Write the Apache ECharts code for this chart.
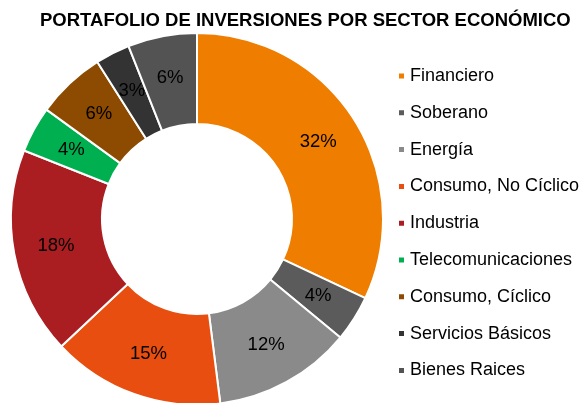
<!DOCTYPE html>
<html>
<head>
<meta charset="utf-8">
<script src="https://cdn.jsdelivr.net/npm/echarts@6/dist/echarts.min.js"></script>
<style>
  html, body { margin: 0; padding: 0; background: #fff; }
  #chart { width: 585px; height: 403px; }
</style>
</head>
<body>
<div id="chart"></div>
<script>
// datos del portafolio
const sectores = ['Financiero', 'Soberano', 'Energía', 'Consumo, No Cíclico', 'Industria',
  'Telecomunicaciones', 'Consumo, Cíclico', 'Servicios Básicos', 'Bienes Raices'];
const porcentajes = [32, 4, 12, 15, 18, 4, 6, 3, 6];
const colores = ['#EE7D00', '#5B5B5B', '#8A8A8A', '#E84E10', '#AA1E22', '#00B050', '#8C4B00', '#333333', '#535353'];

(function () {
  let myChart = echarts.init(document.getElementById('chart'));

  let option = {
    color: colores,
    textStyle: { fontFamily: 'Liberation Sans, Arial, sans-serif' },
    title: {
      text: 'PORTAFOLIO DE INVERSIONES POR SECTOR ECONÓMICO',
      left: 35,
      top: 6,
      textStyle: { fontSize: 18.5, fontWeight: 'bold', color: '#000' }
    },
    legend: {
      orient: 'vertical',
      left: 392,
      top: 61,
      itemWidth: 7,
      itemHeight: 7,
      itemGap: 16.8,
      icon: 'rect',
      textStyle: { fontSize: 18, color: '#000', lineHeight: 20, padding: [0, 0, 0, 0] },
      data: sectores
    },
    series: [{
      type: 'pie',
      center: [197, 219],
      radius: [95, 186],
      startAngle: 90,
      clockwise: true,
      avoidLabelOverlap: false,
      itemStyle: { borderColor: '#fff', borderWidth: 2 },
      label: {
        show: true,
        position: 'inside',
        formatter: p => p.value + '%',
        fontSize: 18.5,
        color: '#000'
      },
      labelLine: { show: false },
      emphasis: { disabled: true },
      data: sectores.map((n, i) => ({ name: n, value: porcentajes[i] }))
    }]
  };

  myChart.setOption(option);
})();
</script>
</body>
</html>
